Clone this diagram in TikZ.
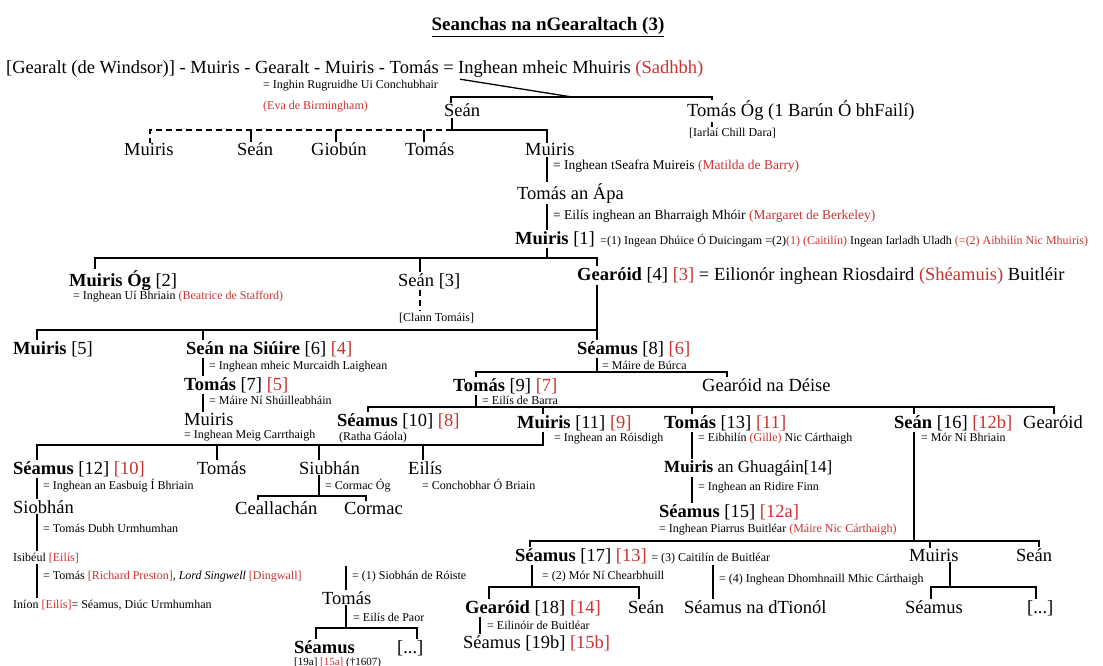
\documentclass[tikz,border=0pt]{standalone}
\usepackage{fontspec}
\setmainfont{Liberation Serif}
\usetikzlibrary{positioning, calc}
\definecolor{dearg}{RGB}{200,50,50}
\newcommand{\dearg}[1]{\textcolor{dearg}{#1}}

\begin{document}
\begin{tikzpicture}[x=1pt, y=-1pt]%
            \tikzstyle{ainm}=[anchor=base west, inner sep=1pt, font={\fontsize{18.5}{20}\selectfont}];%
            \tikzstyle{nota}=[anchor=base west, inner sep=1pt, font={\fontsize{12}{14}\selectfont}];%
            \tikzstyle{ceangal}=[line width=1.3pt];%
            \tikzstyle{briste}=[line width=1.1pt, dash pattern=on 6pt off 4pt];%
            \useasboundingbox (0,0) rectangle (1103,666);

            \node (t0) at (548, 31) [anchor=base, inner sep=1pt, font={\bfseries\fontsize{19}{21}\selectfont}] {\underline{Seanchas na nGearaltach (3)}};

            % an chead line
            \node (l1a) at (5, 74) [ainm] {[Gearalt (de Windsor)] - Muiris - Gearalt - Muiris - Tomás =};
            \node (l1b) at ([xshift=2pt]l1a.base east) [ainm] {Inghean mheic Mhuiris \dearg{(Sadhbh)}};
            \node (n1) at (262, 89) [nota] {= Inghin Rugruidhe Ui Conchubhair};
            \node (n2) at (262, 110) [nota] {\dearg{(Eva de Birmingham)}};
            \node (s1) at (443, 117) [ainm] {Seán};
            \node (to1) at (686, 117) [ainm] {Tomás Óg (1 Barún Ó bhFailí)};
            \node (ic1) at (688, 137) [nota] {[Iarlaí Chill Dara]};

            \node (r2a) at (123, 156) [ainm] {Muiris};
            \node (r2b) at (236, 156) [ainm] {Seán};
            \node (r2c) at (310, 156) [ainm] {Giobún};
            \node (r2d) at (404, 156) [ainm] {Tomás};
            \node (r2e) at (524, 156) [ainm] {Muiris};
            \node (n3) at (552, 170) [nota, font={\fontsize{13.5}{15}\selectfont}] {= Inghean tSeafra Muireis \dearg{(Matilda de Barry)}};
            \node (ta) at (516, 199) [ainm] {Tomás an Ápa};
            \node (n4) at (552, 219) [nota, font={\fontsize{13.5}{15}\selectfont}] {= Eilís inghean an Bharraigh Mhóir \dearg{(Margaret de Berkeley)}};
            \node (m1) at (514, 244) [ainm] {\textbf{Muiris} [1]};
            \node (n5) at ([xshift=3pt]m1.base east) [nota] {=(1) Ingean Dhúice Ó Duicingam =(2)\dearg{(1) (Caitilín)} Ingean Iarladh Uladh \dearg{(=(2) Aibhilín Nic Mhuiris)}};

            \node (m2) at (68, 286) [ainm] {\textbf{Muiris Óg} [2]};
            \node (n6) at (72, 299) [nota] {= Inghean Uí Bhriain \dearg{(Beatrice de Stafford)}};
            \node (s3) at (397, 286) [ainm] {Seán [3]};
            \node (ct) at (398, 321) [nota] {[Clann Tomáis]};
            \node (g4) at (576, 280) [ainm] {\textbf{Gearóid} [4] \dearg{[3]} = Eilionór inghean Riosdaird \dearg{(Shéamuis)} Buitléir};

            \node (m5) at (12, 354) [ainm] {\textbf{Muiris} [5]};
            \node (s6) at (185, 354) [ainm] {\textbf{Seán na Siúire} [6] \dearg{[4]}};
            \node (n7) at (208, 369) [nota] {= Inghean mheic Murcaidh Laighean};
            \node (s8) at (576, 354) [ainm] {\textbf{Séamus} [8] \dearg{[6]}};
            \node (n8) at (601, 369) [nota] {= Máire de Búrca};
            \node (t7) at (183, 390) [ainm] {\textbf{Tomás} [7] \dearg{[5]}};
            \node (n9) at (208, 404) [nota] {= Máire Ní Shúilleabháin};
            \node (mu) at (183, 425) [ainm] {Muiris};
            \node (n10) at (183, 438) [nota] {= Inghean Meig Carrthaigh};
            \node (t9) at (452, 391) [ainm] {\textbf{Tomás} [9] \dearg{[7]}};
            \node (n11) at (481, 404) [nota] {= Eilís de Barra};
            \node (gd) at (701, 391) [ainm] {Gearóid na Déise};

            \node (s10) at (336, 426) [ainm] {\textbf{Séamus} [10] \dearg{[8]}};
            \node (rg) at (338, 440) [nota] {(Ratha Gáola)};
            \node (m11) at (516, 428) [ainm] {\textbf{Muiris} [11] \dearg{[9]}};
            \node (n12) at (553, 441) [nota] {= Inghean an Róisdigh};
            \node (t13) at (663, 428) [ainm] {\textbf{Tomás} [13] \dearg{[11]}};
            \node (n13) at (697, 441) [nota] {= Eibhilín \dearg{(Gille)} Nic Cárthaigh};
            \node (s16) at (893, 428) [ainm] {\textbf{Seán} [16] \dearg{[12b]}};
            \node (n14) at (920, 441) [nota] {= Mór Ní Bhriain};
            \node (ge) at (1022, 428) [ainm] {Gearóid};

            \node (s12) at (12, 474) [ainm] {\textbf{Séamus} [12] \dearg{[10]}};
            \node (tt) at (196, 474) [ainm] {Tomás};
            \node (sb) at (298, 474) [ainm] {Siubhán};
            \node (el) at (407, 474) [ainm] {Eilís};
            \node (n15) at (42, 489) [nota] {= Inghean an Easbuig Í Bhriain};
            \node (n18) at (324, 489) [nota] {= Cormac Óg};
            \node (n19) at (421, 489) [nota] {= Conchobhar Ó Briain};
            \node (ce) at (234, 514) [ainm] {Ceallachán};
            \node (co) at (343, 514) [ainm] {Cormac};
            \node (sh) at (12, 513) [ainm] {Siobhán};
            \node (n16) at (42, 532) [nota] {= Tomás Dubh Urmhumhan};
            \node (isb) at (12, 561) [nota] {Isibéul \dearg{[Eilís]}};
            \node (n17) at (42, 579) [nota] {= Tomás \dearg{[Richard Preston]}, \textit{Lord Singwell} \dearg{[Dingwall]}};
            \node (ini) at (12, 608) [nota] {Iníon \dearg{[Eilís]}= Séamus, Diúc Urmhumhan};

            \node (m14) at (663, 472) [ainm, font={\fontsize{17}{19}\selectfont}] {\textbf{Muiris} an Ghuagáin[14]};
            \node (n20) at (697, 490) [nota] {= Inghean an Ridire Finn};
            \node (s15) at (658, 517) [ainm] {\textbf{Séamus} [15] \dearg{[12a]}};
            \node (n21) at (658, 532) [nota] {= Inghean Piarrus Buitléar \dearg{(Máire Nic Cárthaigh)}};

            \node (s17) at (514, 561) [ainm] {\textbf{Séamus} [17] \dearg{[13]} {\fontsize{12}{14}\selectfont = (3) Caitilín de Buitléar}};
            \node (mb) at (908, 561) [ainm] {Muiris};
            \node (sn) at (1015, 561) [ainm] {Seán};
            \node (n22) at (541, 579) [nota] {= (2) Mór Ní Chearbhuill};
            \node (n23) at (718, 582) [nota] {= (4) Inghean Dhomhnaill Mhic Cárthaigh};
            \node (g18) at (464, 613) [ainm] {\textbf{Gearóid} [18] \dearg{[14]}};
            \node (sn2) at (627, 613) [ainm] {Seán};
            \node (sdt) at (683, 613) [ainm] {Séamus na dTionól};
            \node (sm) at (904, 613) [ainm] {Séamus};
            \node (dd) at (1026, 613) [ainm] {[...]};
            \node (n24) at (486, 629) [nota] {= Eilinóir de Buitléar};
            \node (s19) at (462, 648) [ainm] {Séamus [19b] \dearg{[15b]}};

            \node (n25) at (351, 579) [nota] {= (1) Siobhán de Róiste};
            \node (tm) at (321, 604) [ainm] {Tomás};
            \node (n26) at (352, 621) [nota] {= Eilís de Paor};
            \node (sx) at (293, 653) [ainm] {\textbf{Séamus}};
            \node (dx) at (396, 653) [ainm] {[...]};
            \node (n27) at (293, 665) [nota, font={\fontsize{11}{13}\selectfont}] {[19a] \dearg{[15a]} (†1607)};

            % na ceangail
            \coordinate (a1) at (451, 97);
            \coordinate (a2) at (712, 97);
            \coordinate (a3) at (572, 97);
            \draw[ceangal] (a1 |- s1.north) -- (a1) -- (a2) -- (a2 |- to1.north);
            \draw[ceangal] ([xshift=3pt]l1b.south west) -- (a3);
            \draw[briste] (a2 |- to1.south) -- (a2 |- ic1.north);

            \coordinate (b0) at (452, 130);
            \coordinate (b1) at (150, 130);
            \coordinate (b2) at (251, 130);
            \coordinate (b3) at (336, 130);
            \coordinate (b4) at (424, 130);
            \coordinate (b5) at (547, 130);
            \draw[ceangal] (b0 |- s1.south) -- (b0) -- (b5) -- (b5 |- r2e.north);
            \draw[briste] (b0) -- (b1) -- (b1 |- r2a.north);
            \draw[ceangal] (b2) -- (b2 |- r2b.north);
            \draw[ceangal] (b3) -- (b3 |- r2c.north);
            \draw[ceangal] (b4) -- (b4 |- r2d.north);
            \draw[ceangal] (b5 |- r2e.south) -- (b5 |- ta.north);
            \draw[ceangal] (b5 |- ta.south) -- (b5 |- m1.north);

            \coordinate (c1) at (95, 258);
            \coordinate (c2) at (420, 258);
            \coordinate (c3) at (597, 258);
            \draw[ceangal] (b5 |- m1.south) -- (b5 |- c1);
            \draw[ceangal] (c1 |- m2.north) -- (c1) -- (c3) -- (c3 |- g4.north);
            \draw[ceangal] (c2) -- (c2 |- s3.north);
            \draw[briste] (c2 |- s3.south) -- (c2 |- ct.north);

            \coordinate (d0) at (597, 330);
            \coordinate (d1) at (37, 330);
            \coordinate (d2) at (203, 330);
            \draw[ceangal] (c3 |- g4.south) -- (d0) -- (d0 |- s8.north);
            \draw[ceangal] (d0) -- (d1) -- (d1 |- m5.north);
            \draw[ceangal] (d2) -- (d2 |- s6.north);
            \draw[ceangal] (d2 |- s6.south) -- (d2 |- t7.north);
            \draw[ceangal] (d2 |- t7.south) -- (d2 |- mu.north);

            \coordinate (e1) at (476, 372);
            \coordinate (e2) at (727, 372);
            \draw[ceangal] (d0 |- s8.south) -- (d0 |- e1);
            \draw[ceangal] (e1 |- t9.north) -- (e1) -- (e2) -- (e2 |- gd.north);

            \coordinate (f1) at (368, 407);
            \coordinate (f2) at (543, 407);
            \coordinate (f3) at (692, 407);
            \coordinate (f4) at (914, 407);
            \coordinate (f5) at (1054, 407);
            \draw[ceangal] (e1 |- t9.south) -- (e1 |- f1);
            \draw[ceangal] (f1 |- s10.north) -- (f1) -- (f5) -- (f5 |- ge.north);
            \draw[ceangal] (f2) -- (f2 |- m11.north);
            \draw[ceangal] (f3) -- (f3 |- t13.north);
            \draw[ceangal] (f4) -- (f4 |- s16.north);

            \coordinate (g1) at (37, 445);
            \coordinate (g2) at (217, 445);
            \coordinate (g3) at (319, 445);
            \coordinate (g5) at (423, 445);
            \draw[ceangal] (f2 |- m11.south) -- (f2 |- g1) -- (g1) -- (g1 |- s12.north);
            \draw[ceangal] (g2) -- (g2 |- tt.north);
            \draw[ceangal] (g3) -- (g3 |- sb.north);
            \draw[ceangal] (g5) -- (g5 |- el.north);
            \draw[ceangal] (g1 |- s12.south) -- (g1 |- sh.north);
            \draw[ceangal] (g1 |- sh.south) -- (g1 |- isb.north);
            \draw[ceangal] (g1 |- isb.south) -- (g1 |- ini.north);

            \coordinate (h1) at (258, 496);
            \coordinate (h2) at (366, 496);
            \draw[ceangal] (g3 |- sb.south) -- (g3 |- h1);
            \draw[ceangal] (h1 |- ce.north) -- (h1) -- (h2) -- (h2 |- co.north);

            \draw[ceangal] (f3 |- t13.south) -- (f3 |- m14.north);
            \draw[ceangal] (f3 |- m14.south) -- (f3 |- s15.north);

            \coordinate (k1) at (530, 541);
            \coordinate (k2) at (930, 541);
            \coordinate (k3) at (1039, 541);
            \draw[ceangal] (f4 |- s16.south) -- (f4 |- k1);
            \draw[ceangal] (k1 |- s17.north) -- (k1) -- (k3) -- (k3 |- sn.north);
            \draw[ceangal] (k2) -- (k2 |- mb.north);

            \coordinate (p0) at (532, 587);
            \coordinate (p1) at (489, 587);
            \coordinate (p2) at (639, 587);
            \coordinate (p3) at (713, 587);
            \draw[ceangal] (p0 |- s17.south) -- (p0);
            \draw[ceangal] (p1 |- g18.north) -- (p1) -- (p2) -- (p2 |- sn2.north);
            \draw[ceangal] (p3 |- s17.south) -- (p3 |- sdt.north);

            \coordinate (q0) at (950, 587);
            \coordinate (q1) at (931, 587);
            \coordinate (q2) at (1036, 587);
            \draw[ceangal] (q0 |- mb.south) -- (q0);
            \draw[ceangal] (q1 |- sm.north) -- (q1) -- (q2) -- (q2 |- dd.north);

            \coordinate (r0) at (480, 620);
            \draw[ceangal] (r0 |- g18.south) -- (r0 |- s19.north);

            \coordinate (u0) at (346, 566);
            \coordinate (v1) at (316, 628);
            \coordinate (v2) at (417, 628);
            \draw[ceangal] (u0) -- (u0 |- tm.north);
            \draw[ceangal] (u0 |- tm.south) -- (u0 |- v1);
            \draw[ceangal] (v1 |- sx.north) -- (v1) -- (v2) -- (v2 |- dx.north);
        \end{tikzpicture}
\end{document}
